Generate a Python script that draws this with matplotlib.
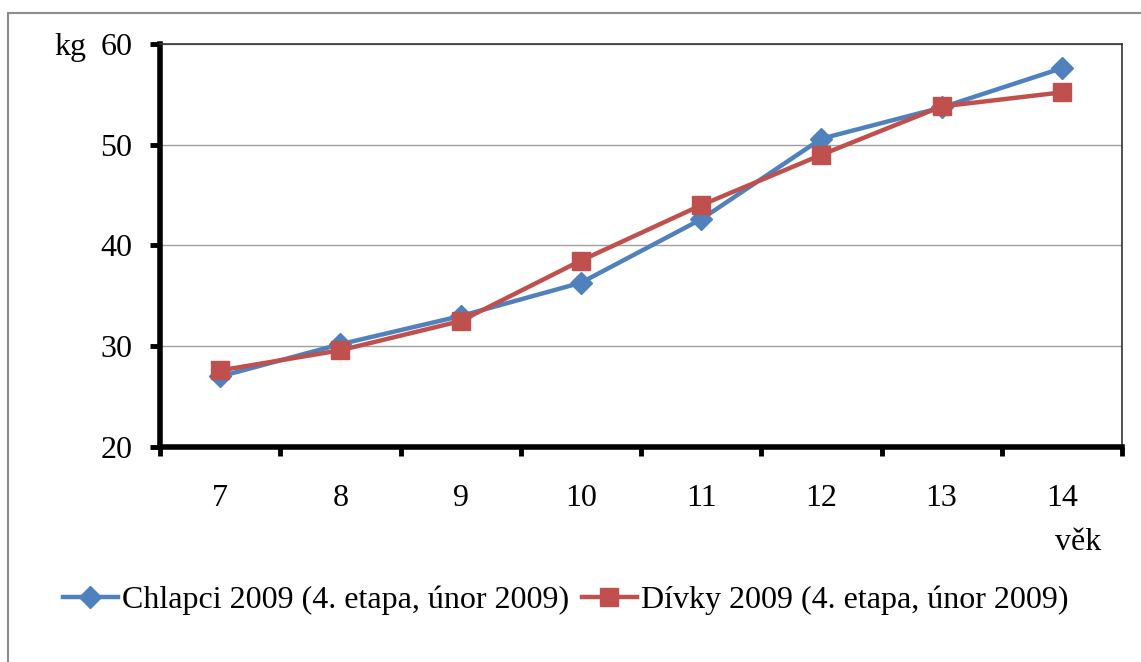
import numpy as np
import matplotlib.pyplot as plt
from matplotlib.patches import Rectangle

# Data
ages = ['7', '8', '9', '10', '11', '12', '13', '14']
boys = [27.0, 30.2, 33.0, 36.3, 42.6, 50.6, 53.7, 57.6]
girls = [27.6, 29.6, 32.5, 38.5, 44.0, 49.0, 53.8, 55.2]
label_boys = 'Chlapci 2009 (4. etapa, únor 2009)'
label_girls = 'Dívky 2009 (4. etapa, únor 2009)'

blue = '#4F81BD'
red = '#C0504D'

plt.rcParams['font.family'] = ['Liberation Serif', 'DejaVu Serif']
fs = 23

W, H = 1141, 662
fig = plt.figure(figsize=(W / 100, H / 100), dpi=100)

# outer chart border
fig.patches.append(Rectangle((8 / W, -0.1), 1.2, 1 - 13 / H + 0.1,
                             transform=fig.transFigure, fill=False,
                             edgecolor='#8c8c8c', linewidth=1.5))

ax = fig.add_axes([160 / W, 1 - 447 / H, (1122 - 160) / W, (447 - 44) / H])

x = np.arange(len(ages))
ax.plot(x, boys, color=blue, lw=3.2, marker='D', ms=11, label=label_boys, zorder=3)
ax.plot(x, girls, color=red, lw=3.2, marker='s', ms=13, label=label_girls, zorder=4)

ax.set_xlim(-0.5, len(ages) - 0.5)
ax.set_ylim(20, 60)
ax.set_yticks([20, 30, 40, 50, 60])
ax.yaxis.grid(True, color='#a0a0a0', lw=1)
ax.set_axisbelow(True)

# category labels centred, ticks at boundaries
ax.set_xticks(np.arange(-0.5, len(ages)), minor=False)
ax.set_xticklabels([])
ax.set_xticks(x, minor=True)
ax.set_xticklabels(ages, minor=True)
ax.tick_params(axis='x', which='major', length=6.5, width=3.5, direction='out')
ax.tick_params(axis='x', which='minor', length=0, pad=27, labelsize=fs)
ax.tick_params(axis='y', length=7, width=3.5, direction='out', pad=13, labelsize=fs)

for s in ['left', 'bottom']:
    ax.spines[s].set_linewidth(4)
for s in ['top', 'right']:
    ax.spines[s].set_linewidth(1.2)
    ax.spines[s].set_color('#333333')

fig.text(70 / W, 1 - 47 / H, 'kg', fontsize=fs, ha='center', va='center')
fig.text(1078 / W, 1 - 543 / H, 'věk', fontsize=fs, ha='center', va='center')

ax.legend(loc='center', bbox_to_anchor=((566 - 160) / 962, 1 - (600 - 44) / 403),
          ncol=2, frameon=False, fontsize=fs, handlelength=1.7, handletextpad=0.15,
          columnspacing=0.4, borderaxespad=0)

fig.savefig('out.png', dpi=100)
